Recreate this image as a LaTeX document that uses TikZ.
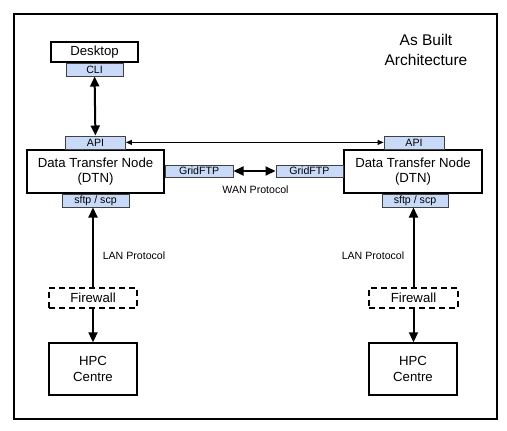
\documentclass[tikz,border=0pt]{standalone}
\usepackage{fontspec}
\setmainfont{Liberation Sans}
\usetikzlibrary{positioning,arrows.meta}
\definecolor{tabblue}{RGB}{201,218,248}

\begin{document}
\begin{tikzpicture}[x=1pt,y=-1pt,
    box/.style={draw, line width=1.4pt, fill=white, inner sep=0pt, align=center,
      font=\fontsize{13.2}{15.5}\selectfont},
    tab/.style={draw=black!75, line width=0.8pt, fill=tabblue, inner sep=0pt,
      minimum height=13pt, font=\fontsize{10.6}{12}\selectfont},
    fwall/.style={box, dashed, dash pattern=on 6pt off 4pt},
    link/.style={line width=2pt, {Triangle[width=9pt,length=10pt]}-{Triangle[width=9pt,length=10pt]}},
    uplink/.style={line width=2pt, -{Triangle[width=9pt,length=10pt]}},
    lbl/.style={font=\fontsize{10.6}{12}\selectfont}
    ]
    \useasboundingbox (0,0) rectangle (507,431);
    \draw[line width=1.3pt] (14,14) rectangle (497,419);

    % title
    \node[align=center, font=\fontsize{15.5}{20}\selectfont] (title) at (426,50) {As Built\\Architecture};

    % boxes
    \node[box, minimum width=87pt, minimum height=20pt] (desk) at (94.5,52) {Desktop};
    \node[box, minimum width=137pt, minimum height=43pt] (dtnL) at (95.5,171.5) {Data Transfer Node\\(DTN)};
    \node[box, minimum width=138pt, minimum height=43pt] (dtnR) at (413,171.5) {Data Transfer Node\\(DTN)};
    \node[fwall, minimum width=88pt, minimum height=20pt] (fwL) at (93,298) {Firewall};
    \node[fwall, minimum width=89pt, minimum height=20pt] (fwR) at (413.5,298) {Firewall};
    \node[box, minimum width=88pt, minimum height=52pt] (hpcL) at (93,369) {HPC\\Centre};
    \node[box, minimum width=88pt, minimum height=52pt] (hpcR) at (413,369) {HPC\\Centre};

    % tabs
    \node[tab, minimum width=57pt, anchor=north] (cli) at (desk.south) {CLI};
    \node[tab, minimum width=60pt, anchor=south] (apiL) at (dtnL.north) {API};
    \node[tab, minimum width=67pt, anchor=north] (sftpL) at (dtnL.south) {sftp / scp};
    \node[tab, minimum width=68pt, minimum height=12pt, anchor=west] (gridL) at ([yshift=0.5pt]dtnL.east) {GridFTP};
    \node[tab, minimum width=60pt, anchor=south] (apiR) at ([xshift=1pt]dtnR.north) {API};
    \node[tab, minimum width=66pt, anchor=north] (sftpR) at ([xshift=2pt]dtnR.south) {sftp / scp};
    \node[tab, minimum width=67pt, minimum height=12pt, anchor=east] (gridR) at ([yshift=0.5pt]dtnR.west) {GridFTP};

    % connectors
    \draw[link] (cli) -- (apiL);
    \draw[line width=0.8pt, {Triangle[width=5pt,length=6pt]}-{Triangle[width=5pt,length=6pt]}] (apiL) -- (apiR);
    \draw[link] (gridL) -- (gridR);
    \node[lbl, below=5pt of gridL.south east, xshift=22pt] (wan) {WAN Protocol};
    \draw[uplink] (fwL.north) -- (fwL.north |- sftpL.south);
    \draw[uplink] (fwL) -- (fwL.south |- hpcL.north);
    \draw[uplink] (fwR.north) -- (fwR.north |- sftpR.south);
    \draw[uplink] (fwR) -- (fwR.south |- hpcR.north);
    \node[lbl] (lanL) at (134,256) {LAN Protocol};
    \node[lbl] (lanR) at (373,256) {LAN Protocol};
\end{tikzpicture}
\end{document}
